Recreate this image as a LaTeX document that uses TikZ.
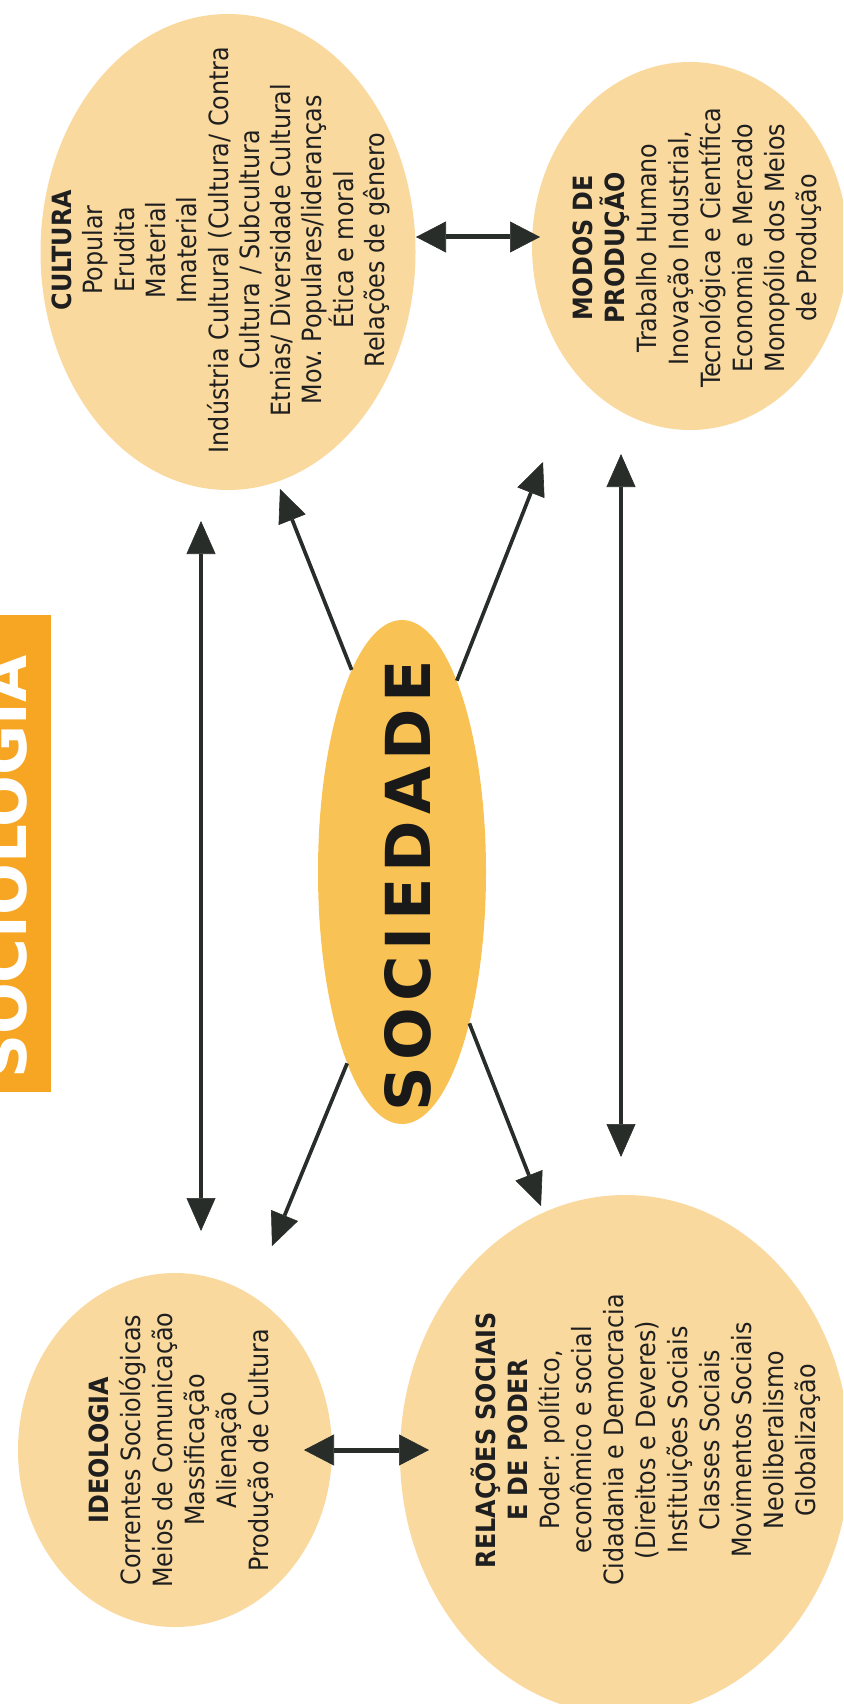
\documentclass[tikz,border=0pt]{standalone}
\usepackage{fontspec}
\setmainfont{DejaVu Sans Condensed}[BoldFont={DejaVu Sans Condensed Bold}]
\newfontfamily\dvs{DejaVu Sans}
\newfontfamily\dvsls{DejaVu Sans}[LetterSpace=10]
\usetikzlibrary{shapes.geometric,arrows.meta}
\definecolor{peach}{RGB}{250,217,158}
\definecolor{socyel}{RGB}{249,194,84}
\definecolor{bannerc}{RGB}{246,166,35}
\definecolor{arrowc}{RGB}{40,45,42}
\tikzset{
  blob/.style={ellipse, fill=peach, draw=none, inner sep=0pt},
  txt/.style={rotate=90, align=center, inner sep=0pt, text=black!88,
    font=\fontsize{26.5}{32}\selectfont},
  arr/.style={line width=3.7pt, draw=arrowc,
    -{Triangle[length=33pt,width=29pt,line width=0.6pt]}},
  dbl/.style={line width=5pt, draw=arrowc,
    {Triangle[length=30pt,width=31pt,line width=0.6pt]}-{Triangle[length=30pt,width=31pt,line width=0.6pt]}},
}
\begin{document}
\begin{tikzpicture}[x=1pt,y=-1pt]
\useasboundingbox (0,0) rectangle (843,1704);
\clip (0,0) rectangle (843,1704);
% banner
\fill[bannerc] (0,615) rectangle (51,1092);
\node[rotate=90, anchor=base, inner sep=0pt, text=white,
  font=\dvs\bfseries\fontsize{61}{61}\selectfont] (bannertxt) at (27,867) {SOCIOLOGIA};
% ellipses
\node[blob, minimum width=375pt, minimum height=476pt] (cult) at (228,252) {};
\node[blob, minimum width=316pt, minimum height=368pt] (modos) at (690,246) {};
\node[blob, fill=socyel, minimum width=168pt, minimum height=504pt] (soc) at (402,872) {};
\node[blob, minimum width=314pt, minimum height=354pt] (ideo) at (175,1450) {};
\node[blob, minimum width=450pt, minimum height=520pt] (rel) at (625,1455) {};
% texts
\node[txt, font=\fontsize{26.5}{31.3}\selectfont] (culttxt) at (221,250) {\textbf{CULTURA}\\Popular\\Erudita\\Material\\Imaterial\\Indústria Cultural (Cultura/ Contra\\Cultura / Subcultura\\Etnias/ Diversidade Cultural\\Mov.\ Populares/lideranças\\Ética e moral\\Relações de gênero};
\node[txt] (modostxt) at (697,248) {\textbf{MODOS DE}\\\textbf{PRODUÇÃO}\\Trabalho Humano\\Inovação Industrial,\\Tecnológica e Científica\\Economia e Mercado\\Monopólio dos Meios\\de Produção};
\node[txt] (ideotxt) at (181,1450) {\textbf{IDEOLOGIA}\\Correntes Sociológicas\\Meios de Comunicação\\Massificação\\Alienação\\Produção de Cultura};
\node[txt] (reltxt) at (646,1440) {\textbf{RELAÇÕES SOCIAIS}\\\textbf{E DE PODER}\\Poder: político,\\econômico e social\\Cidadania e Democracia\\(Direitos e Deveres)\\Instituições Sociais\\Classes Sociais\\Movimentos Sociais\\Neoliberalismo\\Globalização};
\node[rotate=90, inner sep=0pt, text=black!90,
  font=\dvsls\bfseries\fontsize{62}{62}\selectfont] (soctxt) at (408,886) {SOCIEDADE};
% arrow end points
\coordinate (lvT) at (201,521);
\coordinate (lvB) at (201,1231);
\coordinate (rvT) at (621,454);
\coordinate (rvB) at (621,1157);
\coordinate (ulT) at (280,489);
\coordinate (urT) at (543,462);
\coordinate (llT) at (272,1246);
\coordinate (lrT) at (541,1206);
\coordinate (cmL) at (416,237);
\coordinate (cmR) at (540,237);
\coordinate (irL) at (304,1450);
\coordinate (irR) at (429,1450);
% connectors
\draw[arr] (soc.104) -- (ulT);
\draw[arr] (soc.74) -- (urT);
\draw[arr] (soc.254) -- (llT);
\draw[arr] (soc.294) -- (lrT);
\draw[arr, {Triangle[length=33pt,width=29pt,line width=0.6pt]}-{Triangle[length=33pt,width=29pt,line width=0.6pt]}] (lvT) -- (lvB);
\draw[arr, {Triangle[length=33pt,width=29pt,line width=0.6pt]}-{Triangle[length=33pt,width=29pt,line width=0.6pt]}] (rvT) -- (rvB);
\draw[dbl] (cmL) -- (cmR);
\draw[dbl] (irL) -- (irR);
\end{tikzpicture}
\end{document}
